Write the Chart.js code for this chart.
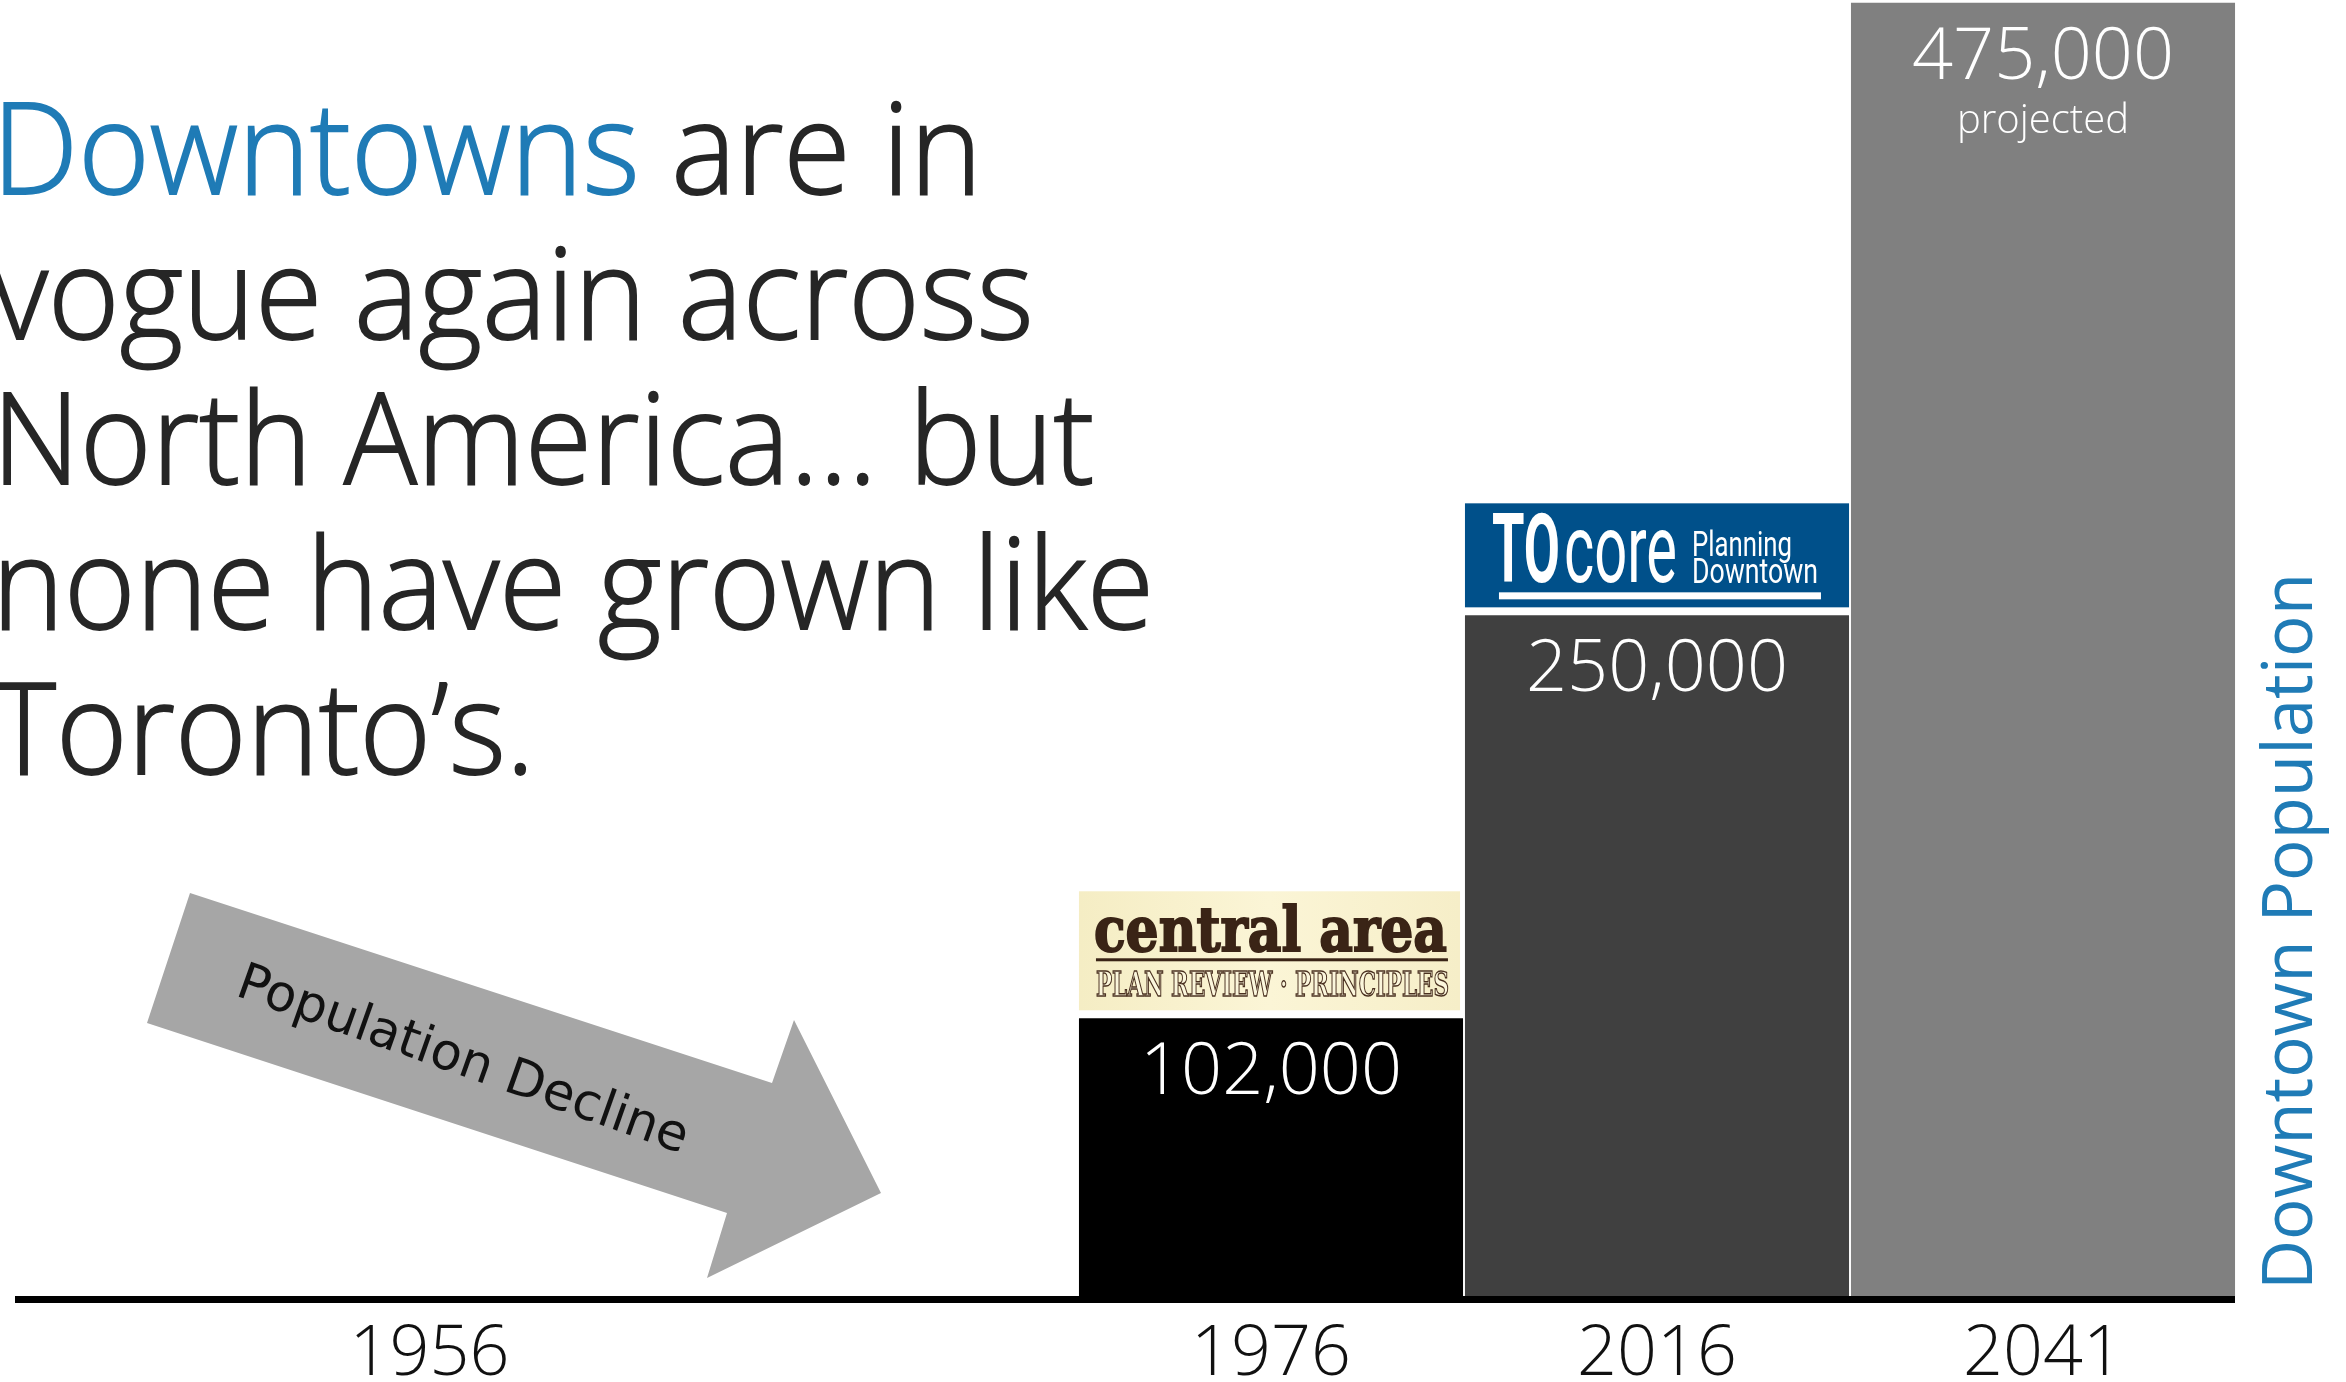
<!DOCTYPE html>
<html lang="en">
<head>
  <meta charset="UTF-8" />
  <title>Downtown Population</title>
  <script src="https://cdn.jsdelivr.net/npm/chart.js"></script>
  <style>
    html, body { margin: 0; padding: 0; background: #fff; }
    canvas { display: block; }
  </style>
</head>
<body>
  <canvas id="popChart" width="2346" height="1382"></canvas>

  <script>
    // data
    const years = ['1956', '1976', '2016', '2041'];
    const population = [null, 102000, 250000, 475000];
    const notes = ['', '', '', 'projected'];
    const logos = [null, 'central', 'tocore', null];

    const headlineLines = [
      [['Downtowns', 'blue'], [' are in', 'dark']],
      [['vogue again across', 'dark']],
      [['North America\u2026 but', 'dark']],
      [['none have grown like', 'dark']],
      [['Toronto\u2019s.', 'dark']]
    ];
    const arrowText = 'Population Decline';
    const axisTitle = 'Downtown Population';

    const BLUE = '#1f7bb6';
    const DARK = '#262626';
    const SANS = '"Open Sans", "Noto Sans", sans-serif';

    function drawCentralLogo(ctx, x, bottom, w) {
      const h = 119, y = bottom - h;
      const g = ctx.createLinearGradient(x, 0, x + w, 0);
      g.addColorStop(0, '#f5edc4');
      g.addColorStop(0.5, '#fbf5d6');
      g.addColorStop(1, '#f6eec8');
      ctx.fillStyle = g;
      ctx.fillRect(x, y, w, h);

      ctx.textAlign = 'left';
      ctx.textBaseline = 'alphabetic';
      ctx.fillStyle = '#3a2416';
      ctx.strokeStyle = '#3a2416';
      ctx.lineWidth = 2;
      ctx.font = 'bold 62px "DejaVu Serif", serif';
      ctx.fillText('central area', x + 15, y + 60, 353);
      ctx.strokeText('central area', x + 15, y + 60, 353);
      ctx.fillRect(x + 17, y + 67, 352, 3);

      ctx.font = 'bold 34px "DejaVu Serif", serif';
      ctx.fillStyle = '#fbf6dc';
      ctx.strokeStyle = '#4a3020';
      ctx.lineWidth = 1.5;
      ctx.fillText('PLAN REVIEW \u00b7 PRINCIPLES', x + 17, y + 105, 353);
      ctx.strokeText('PLAN REVIEW \u00b7 PRINCIPLES', x + 17, y + 105, 353);
    }

    function drawToLogo(ctx, x, bottom, w) {
      const h = 104, y = bottom - h;
      ctx.fillStyle = '#00508a';
      ctx.fillRect(x, y, w, h);

      ctx.textAlign = 'left';
      ctx.textBaseline = 'alphabetic';
      ctx.fillStyle = '#ffffff';
      ctx.font = 'bold 97px Roboto, sans-serif';
      ctx.fillText('TO', x + 27, y + 79, 68);
      ctx.font = '97px Roboto, sans-serif';
      ctx.fillText('core', x + 99, y + 79, 113);
      ctx.font = '35px Roboto, sans-serif';
      ctx.fillText('Planning', x + 227, y + 53, 100);
      ctx.fillText('Downtown', x + 227, y + 80, 126);
      ctx.fillRect(x + 34, y + 89, 322, 7);
    }

    const barLabels = {
      id: 'barLabels',
      afterDatasetsDraw(chart) {
        const ctx = chart.ctx;
        const meta = chart.getDatasetMeta(0);
        ctx.save();
        meta.data.forEach((bar, i) => {
          if (population[i] == null) return;
          const left = bar.x - bar.width / 2;
          ctx.fillStyle = '#ffffff';
          ctx.textAlign = 'center';
          ctx.textBaseline = 'alphabetic';
          ctx.font = '300 72px ' + SANS;
          ctx.fillText(population[i].toLocaleString('en-US'), bar.x, bar.y + 76);
          if (notes[i]) {
            ctx.font = '300 40px ' + SANS;
            ctx.fillText(notes[i], bar.x, bar.y + 130);
          }
          if (logos[i] === 'central') drawCentralLogo(ctx, left, bar.y - 8, bar.width - 3);
          if (logos[i] === 'tocore') drawToLogo(ctx, left, bar.y - 8, bar.width);
        });
        ctx.restore();
      }
    };

    const decorations = {
      id: 'decorations',
      afterDraw(chart) {
        const ctx = chart.ctx;
        const area = chart.chartArea;
        ctx.save();

        // baseline across the whole slide
        ctx.fillStyle = '#000';
        ctx.fillRect(15, area.bottom, area.right - 1 - 15, 7);

        // headline
        ctx.font = '300 127px ' + SANS;
        ctx.textAlign = 'left';
        ctx.textBaseline = 'alphabetic';
        ctx.lineWidth = 1.8;
        const first = headlineLines[0].map(s => s[0]).join('');
        const sx = 990 / ctx.measureText(first).width;
        headlineLines.forEach((line, li) => {
          ctx.save();
          ctx.translate(-8, 194 + li * 145);
          ctx.scale(sx, 1);
          let cx = 0;
          line.forEach(([txt, col]) => {
            ctx.fillStyle = col === 'blue' ? BLUE : DARK;
            ctx.strokeStyle = ctx.fillStyle;
            ctx.fillText(txt, cx, 0);
            ctx.strokeText(txt, cx, 0);
            cx += ctx.measureText(txt).width;
          });
          ctx.restore();
        });

        // decline arrow
        ctx.fillStyle = '#a6a6a6';
        ctx.beginPath();
        ctx.moveTo(190, 893);
        ctx.lineTo(772, 1083);
        ctx.lineTo(794, 1020);
        ctx.lineTo(881, 1193);
        ctx.lineTo(707, 1278);
        ctx.lineTo(727, 1213);
        ctx.lineTo(147, 1023);
        ctx.closePath();
        ctx.fill();

        ctx.save();
        ctx.translate(234, 995);
        ctx.rotate(19.5 * Math.PI / 180);
        ctx.fillStyle = '#111';
        ctx.font = '51px "DejaVu Sans", sans-serif';
        ctx.fillText(arrowText, 0, 0, 492);
        ctx.restore();

        // vertical axis title on the right
        ctx.save();
        ctx.translate(area.right + 76, area.bottom - 6);
        ctx.rotate(-Math.PI / 2);
        ctx.fillStyle = BLUE;
        ctx.font = '70px ' + SANS;
        ctx.fillText(axisTitle, 0, 0, 717);
        ctx.restore();

        ctx.restore();
      }
    };

    const ctx = document.getElementById('popChart').getContext('2d');
    const popChart = new Chart(ctx, {
      type: 'bar',
      data: {
        labels: years,
        datasets: [{
          label: axisTitle,
          data: population,
          backgroundColor: ['#000000', '#000000', '#404040', '#808080'],
          borderWidth: 0,
          barPercentage: 0.995,
          categoryPercentage: 1
        }]
      },
      options: {
        responsive: false,
        animation: false,
        devicePixelRatio: 1,
        layout: { padding: { left: 692, right: 110, top: 0, bottom: 0 } },
        plugins: {
          legend: { display: false },
          tooltip: { enabled: false }
        },
        scales: {
          x: {
            grid: { display: false, drawTicks: false },
            border: { display: false },
            afterBuildTicks: scale => {
              // 1956 sits out on the left, away from the bars
              if (scale.ticks.length) scale.ticks[0].value = -1.18;
            },
            afterFit: scale => { scale.height = 86; },
            ticks: {
              autoSkip: false,
              maxRotation: 0,
              padding: 17,
              color: '#111',
              font: { family: SANS, size: 70, weight: 300 },
              callback: (value, index) => years[index]
            }
          },
          y: {
            display: false,
            min: 0,
            max: 476000
          }
        }
      },
      plugins: [barLabels, decorations]
    });
  </script>
</body>
</html>
